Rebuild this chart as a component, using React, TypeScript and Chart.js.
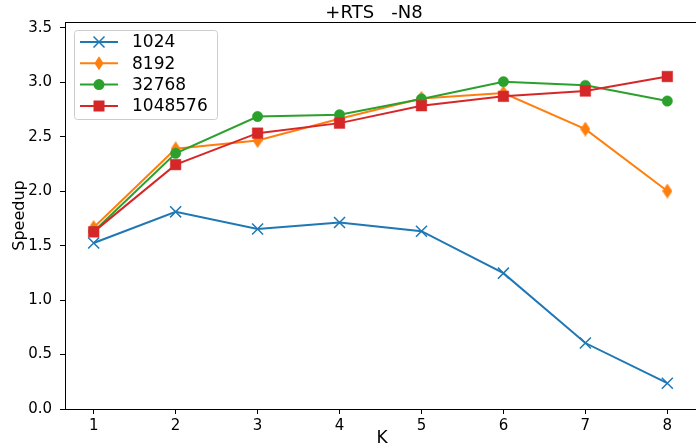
import React, { useEffect, useRef } from "react";
import { Chart, registerables } from "chart.js";

Chart.register(...registerables);

const kValues = [1, 2, 3, 4, 5, 6, 7, 8];
const seriesNames = ["1024", "8192", "32768", "1048576"];
const s1024 = [1.525, 1.811, 1.654, 1.713, 1.633, 1.248, 0.606, 0.237];
const s8192 = [1.667, 2.39, 2.466, 2.666, 2.853, 2.903, 2.571, 2.002];
const s32768 = [1.63, 2.349, 2.687, 2.703, 2.848, 3.007, 2.973, 2.829];
const s1048576 = [1.627, 2.245, 2.534, 2.626, 2.786, 2.872, 2.921, 3.054];
const yTicks = [0, 0.5, 1, 1.5, 2, 2.5, 3, 3.5];
const titleText = "+RTS   -N8";
const xLabel = "K";
const yLabel = "Speedup";

const colors = ["#1f77b4", "#ff7f0e", "#2ca02c", "#d62728"];
const FONT = "'DejaVu Sans', sans-serif";

function makeDiamond(w: number, h: number, color: string) {
  const c = document.createElement("canvas");
  c.width = w;
  c.height = h;
  const ctx = c.getContext("2d")!;
  ctx.fillStyle = color;
  ctx.beginPath();
  ctx.moveTo(w / 2, 0);
  ctx.lineTo(w, h / 2);
  ctx.lineTo(w / 2, h);
  ctx.lineTo(0, h / 2);
  ctx.closePath();
  ctx.fill();
  return c;
}

function drawMarker(ctx: CanvasRenderingContext2D, kind: number, x: number, y: number, color: string) {
  ctx.save();
  ctx.fillStyle = color;
  ctx.strokeStyle = color;
  if (kind === 0) {
    ctx.lineWidth = 1.5;
    const d = 5.5;
    ctx.beginPath();
    ctx.moveTo(x - d, y - d);
    ctx.lineTo(x + d, y + d);
    ctx.moveTo(x - d, y + d);
    ctx.lineTo(x + d, y - d);
    ctx.stroke();
  } else if (kind === 1) {
    ctx.beginPath();
    ctx.moveTo(x, y - 7);
    ctx.lineTo(x + 4.5, y);
    ctx.lineTo(x, y + 7);
    ctx.lineTo(x - 4.5, y);
    ctx.closePath();
    ctx.fill();
  } else if (kind === 2) {
    ctx.beginPath();
    ctx.arc(x, y, 5.5, 0, Math.PI * 2);
    ctx.fill();
  } else {
    ctx.fillRect(x - 5.5, y - 5.5, 11, 11);
  }
  ctx.restore();
}

const decorPlugin = {
  id: "decor",
  afterDraw(chart: any) {
    const ctx: CanvasRenderingContext2D = chart.ctx;
    const a = chart.chartArea;
    ctx.save();
    // top spine
    ctx.strokeStyle = "#000";
    ctx.lineWidth = 1;
    ctx.beginPath();
    ctx.moveTo(a.left, a.top + 0.5);
    ctx.lineTo(a.right + 2, a.top + 0.5);
    ctx.stroke();
    // title
    ctx.fillStyle = "#000";
    ctx.font = `18px ${FONT}`;
    ctx.textAlign = "center";
    ctx.textBaseline = "alphabetic";
    ctx.fillText(titleText, 374, 18);
    // x label
    ctx.font = `17px ${FONT}`;
    ctx.fillText(xLabel, 382, 443);
    // y label
    ctx.save();
    ctx.translate(24, (a.top + a.bottom) / 2);
    ctx.rotate(-Math.PI / 2);
    ctx.font = `16px ${FONT}`;
    ctx.textAlign = "center";
    ctx.textBaseline = "alphabetic";
    ctx.fillText(yLabel, 0, 0);
    ctx.restore();
    // legend
    const lx = 74, ly = 30, lw = 143, lh = 89;
    ctx.beginPath();
    (ctx as any).roundRect(lx + 0.5, ly + 0.5, lw, lh, 3);
    ctx.fillStyle = "rgba(255,255,255,0.8)";
    ctx.fill();
    ctx.strokeStyle = "#cccccc";
    ctx.lineWidth = 1;
    ctx.stroke();
    const rows = [42, 63.3, 84.6, 106];
    seriesNames.forEach((name, i) => {
      const y = rows[i];
      ctx.strokeStyle = colors[i];
      ctx.lineWidth = 2;
      ctx.beginPath();
      ctx.moveTo(80, y);
      ctx.lineTo(118, y);
      ctx.stroke();
      drawMarker(ctx, i, 99, y, colors[i]);
      ctx.fillStyle = "#000";
      ctx.font = `17px ${FONT}`;
      ctx.textAlign = "left";
      ctx.textBaseline = "middle";
      ctx.fillText(name, 132, y + 1);
    });
    ctx.restore();
  },
};

export default function App() {
  const ref = useRef<HTMLCanvasElement>(null);
  useEffect(() => {
    document.body.style.margin = "0";
    const diamond = makeDiamond(10, 15, colors[1]);
    const mk = (vals: number[]) => vals.map((v, i) => ({ x: kValues[i], y: v }));
    const chart = new Chart(ref.current!, {
      type: "line",
      data: {
        datasets: [
          {
            label: seriesNames[0],
            data: mk(s1024),
            borderColor: colors[0],
            backgroundColor: colors[0],
            borderWidth: 2,
            pointStyle: "crossRot",
            pointRadius: 7.8,
            pointBorderWidth: 1.5,
            order: 3,
          },
          {
            label: seriesNames[1],
            data: mk(s8192),
            borderColor: colors[1],
            backgroundColor: colors[1],
            borderWidth: 2,
            pointStyle: diamond as any,
            pointRadius: 7,
            order: 2,
          },
          {
            label: seriesNames[2],
            data: mk(s32768),
            borderColor: colors[2],
            backgroundColor: colors[2],
            borderWidth: 2,
            pointStyle: "circle",
            pointRadius: 5.2,
            pointBorderWidth: 0.5,
            order: 1,
          },
          {
            label: seriesNames[3],
            data: mk(s1048576),
            borderColor: colors[3],
            backgroundColor: colors[3],
            borderWidth: 2,
            pointStyle: "rect",
            pointRadius: 7.5,
            pointBorderWidth: 0.5,
            order: 0,
          },
        ],
      },
      options: {
        animation: false,
        responsive: false,
        layout: { autoPadding: false, padding: { left: 0, right: -2, top: 22, bottom: 0 } },
        plugins: {
          legend: { display: false },
          tooltip: { enabled: false },
          title: { display: false },
        },
        elements: { line: { tension: 0 } },
        scales: {
          x: {
            type: "linear",
            min: 0.65,
            max: 8.35,
            afterBuildTicks: (s: any) => {
              s.ticks = kValues.map((v) => ({ value: v }));
            },
            afterFit: (s: any) => {
              s.height = 36;
              s.paddingRight = 0;
              s.paddingLeft = 0;
            },
            grid: { drawOnChartArea: false, drawTicks: true, tickLength: 5, color: "#000" },
            border: { display: true, color: "#000", width: 1 },
            ticks: {
              color: "#000",
              font: { family: FONT, size: 15 },
              padding: 3,
              maxRotation: 0,
              callback: (v: any) => String(v),
            },
          },
          y: {
            type: "linear",
            min: 0,
            max: 3.555,
            afterBuildTicks: (s: any) => {
              s.ticks = yTicks.map((v) => ({ value: v }));
            },
            afterFit: (s: any) => {
              s.width = 65;
              s.paddingTop = 0;
              s.paddingBottom = 0;
            },
            grid: { drawOnChartArea: false, drawTicks: true, tickLength: 5, color: "#000" },
            border: { display: true, color: "#000", width: 1 },
            ticks: {
              color: "#000",
              font: { family: FONT, size: 15 },
              padding: 8,
              callback: (v: any) => Number(v).toFixed(1),
            },
          },
        },
      },
      plugins: [decorPlugin],
    });
    return () => chart.destroy();
  }, []);
  return (
    <div style={{ position: "absolute", left: 0, top: 0, width: 696, height: 445 }}>
      <canvas ref={ref} width={696} height={445} />
    </div>
  );
}
